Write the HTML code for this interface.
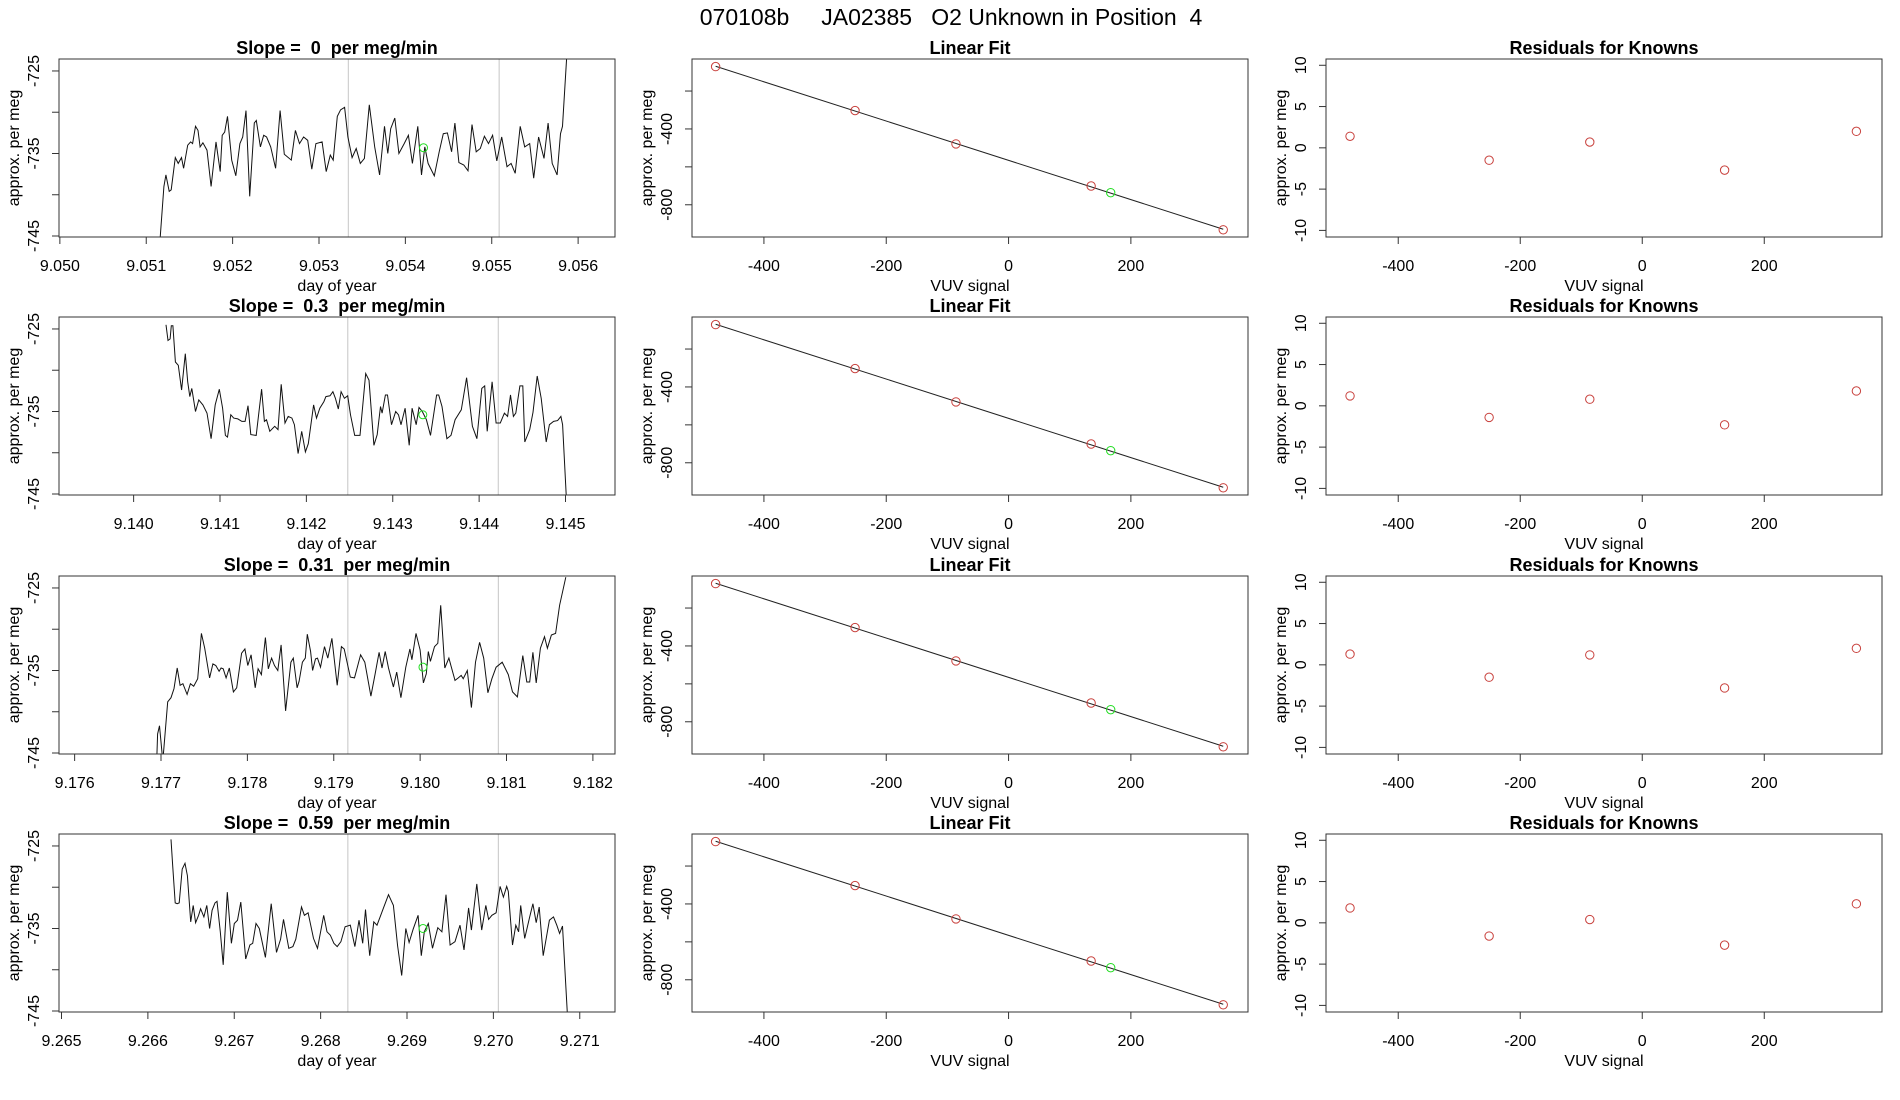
<!DOCTYPE html>
<html><head><meta charset="utf-8"><title>070108b JA02385 O2 Unknown</title>
<style>
html,body{margin:0;padding:0;background:#fff;}
svg{display:block;font-family:"Liberation Sans",Arial,sans-serif;}
svg text{white-space:pre;}
</style></head>
<body>
<svg id="fig" width="1900" height="1100" viewBox="0 0 1900 1100" xmlns="http://www.w3.org/2000/svg" xml:space="preserve">
<rect x="0" y="0" width="1900" height="1100" fill="#fff"/>
<text x="951" y="25" font-size="23" text-anchor="middle" xml:space="preserve" style="white-space:pre">070108b     JA02385   O2 Unknown in Position  4</text>
</svg>
<script>
// ---------- time-series data ----------
const ts1Days=[9.051156,9.051204,9.051228,9.051266,9.051289,9.051337,9.051370,9.051408,9.051432,9.051480,9.051513,9.051537,9.051570,9.051599,9.051623,9.051656,9.051703,9.051751,9.051808,9.051856,9.051879,9.051908,9.051941,9.051989,9.052037,9.052084,9.052117,9.052155,9.052198,9.052251,9.052274,9.052322,9.052360,9.052393,9.052441,9.052498,9.052550,9.052598,9.052679,9.052727,9.052774,9.052822,9.052869,9.052917,9.052964,9.053036,9.053083,9.053131,9.053164,9.053212,9.053250,9.053297,9.053335,9.053383,9.053431,9.053478,9.053526,9.053583,9.053645,9.053702,9.053759,9.053797,9.053830,9.053878,9.053925,9.053987,9.054035,9.054082,9.054144,9.054187,9.054225,9.054263,9.054335,9.054392,9.054439,9.054487,9.054535,9.054573,9.054620,9.054677,9.054725,9.054772,9.054820,9.054868,9.054915,9.054963,9.055010,9.055058,9.055115,9.055177,9.055224,9.055272,9.055329,9.055381,9.055439,9.055486,9.055543,9.055605,9.055653,9.055700,9.055757,9.055796,9.055819,9.055867];
const ts1Vals=[-746,-739.0,-737.6,-739.6,-739.4,-735.5,-736.2,-735.5,-736.8,-734.0,-733.6,-733.8,-731.7,-732.2,-734.2,-733.7,-734.6,-739.0,-733.6,-737.2,-732.8,-732.4,-730.5,-735.8,-737.7,-733.8,-733.0,-729.8,-740.2,-731.3,-731.0,-734.2,-732.8,-733.0,-734.2,-736.8,-729.8,-735.1,-735.8,-732.2,-733.8,-733.0,-733.4,-736.9,-733.8,-733.6,-737.2,-735.2,-735.8,-730.5,-729.7,-729.4,-733.0,-735.5,-734.4,-736.2,-735.6,-729.1,-734.2,-737.6,-731.7,-735.0,-732.0,-730.7,-735.0,-733.8,-732.8,-736.2,-731.7,-737.6,-734.2,-736.2,-737.7,-734.8,-732.6,-732.5,-734.8,-731.3,-736.1,-736.4,-737.1,-731.5,-734.8,-734.4,-732.9,-733.8,-732.8,-735.9,-733.0,-736.6,-736.2,-737.4,-731.7,-734.2,-733.8,-738.0,-733.0,-735.6,-731.3,-736.2,-737.6,-732.6,-731.7,-723.5];
const ts2Days=[9.140375,9.140398,9.140422,9.140436,9.140455,9.140484,9.140517,9.140555,9.140598,9.140626,9.140650,9.140674,9.140716,9.140754,9.140802,9.140849,9.140897,9.140944,9.140992,9.141030,9.141063,9.141087,9.141125,9.141158,9.141206,9.141253,9.141291,9.141324,9.141357,9.141419,9.141481,9.141514,9.141538,9.141576,9.141633,9.141671,9.141709,9.141752,9.141790,9.141832,9.141861,9.141904,9.141946,9.141989,9.142022,9.142084,9.142117,9.142155,9.142203,9.142226,9.142274,9.142307,9.142336,9.142369,9.142402,9.142440,9.142478,9.142511,9.142559,9.142621,9.142687,9.142725,9.142782,9.142820,9.142858,9.142877,9.142915,9.142939,9.142986,9.143034,9.143067,9.143095,9.143143,9.143190,9.143224,9.143271,9.143304,9.143342,9.143390,9.143437,9.143508,9.143532,9.143570,9.143627,9.143674,9.143722,9.143793,9.143855,9.143922,9.143974,9.144031,9.144064,9.144093,9.144150,9.144197,9.144245,9.144292,9.144330,9.144363,9.144397,9.144425,9.144472,9.144506,9.144529,9.144586,9.144624,9.144672,9.144719,9.144776,9.144814,9.144862,9.144909,9.144947,9.144966,9.145014];
const ts2Vals=[-724.5,-726.4,-726.2,-724.6,-724.6,-729.0,-729.4,-732.4,-728.0,-731.4,-733.2,-732.2,-735.0,-733.6,-734.2,-735.2,-738.3,-734.2,-732.3,-734.6,-737.9,-738.1,-735.4,-735.8,-735.9,-736.2,-736.2,-734.3,-737.8,-737.9,-732.3,-736.2,-736.0,-737.4,-736.8,-737.2,-731.7,-736.4,-735.6,-735.8,-736.6,-740.1,-737.4,-739.9,-738.9,-734.2,-735.8,-734.6,-733.8,-733.2,-733.1,-732.6,-733.4,-734.7,-732.6,-733.4,-733.1,-735.4,-737.9,-737.9,-730.4,-731.2,-739.1,-737.8,-734.4,-735.2,-733.0,-733.0,-736.6,-735.0,-735.4,-736.6,-734.6,-739.1,-734.6,-736.6,-734.5,-735.0,-736.0,-737.9,-733.0,-733.0,-734.4,-738.3,-737.9,-736.0,-734.8,-730.9,-736.8,-738.3,-732.2,-731.9,-737.4,-731.4,-736.4,-736.4,-735.2,-735.6,-733.0,-735.6,-735.2,-731.9,-731.9,-738.7,-737.2,-735.1,-730.7,-733.4,-738.7,-736.6,-736.2,-736.1,-735.6,-736.6,-746.3];
const ts3Days=[9.176950,9.176960,9.176983,9.177021,9.177078,9.177116,9.177150,9.177188,9.177221,9.177254,9.177302,9.177340,9.177378,9.177425,9.177468,9.177506,9.177563,9.177601,9.177634,9.177672,9.177696,9.177720,9.177753,9.177791,9.177838,9.177876,9.177933,9.177971,9.178005,9.178043,9.178090,9.178124,9.178162,9.178209,9.178242,9.178280,9.178314,9.178352,9.178390,9.178442,9.178504,9.178532,9.178575,9.178599,9.178637,9.178670,9.178694,9.178732,9.178755,9.178789,9.178812,9.178846,9.178893,9.178931,9.178979,9.179040,9.179088,9.179121,9.179192,9.179240,9.179311,9.179359,9.179430,9.179477,9.179525,9.179558,9.179596,9.179634,9.179691,9.179729,9.179777,9.179834,9.179881,9.179905,9.179952,9.180000,9.180038,9.180071,9.180095,9.180119,9.180166,9.180204,9.180238,9.180285,9.180333,9.180356,9.180404,9.180442,9.180475,9.180499,9.180546,9.180594,9.180641,9.180689,9.180736,9.180784,9.180831,9.180879,9.180950,9.181021,9.181069,9.181126,9.181188,9.181235,9.181268,9.181306,9.181344,9.181392,9.181440,9.181473,9.181520,9.181568,9.181615,9.181686];
const ts3Vals=[-746,-742.7,-741.7,-746,-738.8,-738.3,-737.2,-734.7,-736.8,-736.6,-737.9,-736.6,-736.9,-736.0,-730.5,-732.3,-735.9,-734.2,-734.4,-735.1,-734.7,-734.8,-735.9,-734.7,-737.6,-737.1,-732.9,-732.4,-734.4,-733.1,-737.1,-734.8,-735.5,-731.0,-734.8,-733.5,-734.4,-735.0,-731.9,-739.9,-734.0,-733.5,-737.1,-736.3,-734.0,-733.5,-730.6,-732.7,-735.0,-733.6,-733.5,-734.6,-732.1,-733.5,-731.1,-736.8,-732.1,-732.4,-735.8,-735.9,-733.1,-734.0,-738.1,-735.5,-732.8,-734.7,-732.7,-734.7,-737.0,-735.2,-738.3,-734.6,-732.4,-733.7,-730.5,-732.5,-736.5,-735.4,-732.7,-733.9,-732.1,-731.7,-727.1,-734.7,-733.5,-734.4,-736.2,-735.9,-735.6,-736.0,-735.0,-739.5,-734.0,-731.6,-733.5,-737.7,-736.0,-734.6,-734.0,-735.5,-737.6,-738.2,-733.2,-736.4,-736.4,-732.8,-736.5,-732.3,-730.9,-732.3,-730.7,-730.5,-727.1,-723.7];
const ts4Days=[9.266268,9.266287,9.266316,9.266340,9.266363,9.266397,9.266430,9.266458,9.266496,9.266525,9.266553,9.266587,9.266610,9.266648,9.266682,9.266715,9.266743,9.266777,9.266800,9.266838,9.266872,9.266919,9.266967,9.267000,9.267038,9.267076,9.267133,9.267181,9.267214,9.267252,9.267290,9.267361,9.267428,9.267489,9.267537,9.267570,9.267632,9.267679,9.267713,9.267779,9.267812,9.267855,9.267917,9.267964,9.268036,9.268074,9.268112,9.268154,9.268192,9.268235,9.268283,9.268344,9.268397,9.268444,9.268487,9.268520,9.268568,9.268615,9.268653,9.268724,9.268786,9.268843,9.268891,9.268938,9.268986,9.269024,9.269071,9.269128,9.269166,9.269200,9.269247,9.269295,9.269356,9.269404,9.269451,9.269499,9.269556,9.269613,9.269660,9.269713,9.269746,9.269808,9.269865,9.269912,9.269945,9.269983,9.270031,9.270078,9.270116,9.270154,9.270173,9.270221,9.270259,9.270292,9.270316,9.270363,9.270420,9.270458,9.270496,9.270530,9.270577,9.270648,9.270696,9.270734,9.270767,9.270800,9.270862];
const ts4Vals=[-724.2,-727.4,-731.9,-732.0,-731.9,-727.8,-727.1,-728.6,-734.2,-732.2,-734.3,-733.4,-732.6,-733.6,-732.2,-735.0,-732.8,-731.9,-731.7,-735.4,-739.4,-730.6,-736.8,-734.4,-734.0,-731.8,-738.7,-737.0,-736.8,-734.4,-735.0,-738.5,-732.0,-737.9,-736.3,-733.9,-737.4,-737.2,-736.3,-732.4,-733.4,-733.1,-736.2,-737.4,-733.4,-735.4,-735.8,-736.8,-737.2,-736.6,-734.8,-734.6,-737.2,-734.0,-736.8,-732.7,-738.3,-734.2,-734.6,-732.6,-730.9,-732.2,-737.1,-740.7,-735.0,-736.7,-735.1,-733.4,-738.3,-735.4,-734.4,-737.4,-734.9,-735.4,-730.9,-737.0,-736.6,-734.6,-737.6,-732.5,-735.2,-729.6,-735.2,-732.2,-733.9,-733.4,-733.1,-729.9,-731.2,-729.9,-730.5,-737.0,-734.6,-735.4,-732.2,-736.2,-733.6,-732.0,-734.3,-732.4,-738.3,-734.0,-733.6,-734.6,-735.6,-734.7,-746.3];
const tsXMin=[9.049990,9.139136,9.175819,9.264971];
const tsXTicks=[[9.050,9.051,9.052,9.053,9.054,9.055,9.056],[9.140,9.141,9.142,9.143,9.144,9.145],[9.176,9.177,9.178,9.179,9.180,9.181,9.182],[9.265,9.266,9.267,9.268,9.269,9.270,9.271]];
const tsGrayLines=[[9.053340,9.055086],[9.142479,9.144222],[9.179163,9.180906],[9.268315,9.270058]];
const tsUnknownDay=[9.054210,9.143348,9.180033,9.269185];
const tsUnknownVal=[-734.3,-735.4,-734.6,-735.0];
const slopeLabels=["0","0.3","0.31","0.59"];
const tsYTicks=[-725,-730,-735,-740,-745];
const tsYLabels=[-725,-735,-745];
// ---------- linear fit data ----------
const fitX=[-479,-251,-86,135,351];
const fitY=[-71,-303,-479,-701,-932];
const unknownSignal=[167];
const unknownPerMeg=[-736];
const fitXTicks=[-400,-200,0,200];
const fitYTicks=[-200,-400,-600,-800];
const fitYLabels=[-400,-800];
// ---------- residual data ----------
const resid1=[1.4,-1.5,0.7,-2.7,2.0];
const resid2=[1.2,-1.4,0.8,-2.3,1.8];
const resid3=[1.3,-1.5,1.2,-2.8,2.0];
const resid4=[1.8,-1.6,0.4,-2.7,2.3];
const residYTicks=[-10,-5,0,5,10];

const NS="http://www.w3.org/2000/svg";
const svg=document.getElementById('fig');
const colLeft=[59,692,1326], PW=556, PH=178;
const rowTop=[59,317,576,834];
function mk(tag,attrs,parent){const e=document.createElementNS(NS,tag);for(const k in attrs)e.setAttribute(k,attrs[k]);(parent||svg).appendChild(e);return e;}
function scale(d0,d1,r0,r1){return v=>r0+(v-d0)/(d1-d0)*(r1-r0);}
function fmt(v){return (v<0?"-":"")+Math.abs(v);}

function frame(g,L,T,title,xTitle,yTitle){
  const b=mk('rect',{x:L,y:T,width:PW,height:PH,fill:'none',stroke:'#333','stroke-width':1},g);
  
  
  const t=mk('text',{x:L+PW/2,y:T-5,'font-size':18,'font-weight':'bold','text-anchor':'middle',style:'white-space:pre'},g);
  t.textContent=title;
  
  
  const xt=mk('text',{x:L+PW/2,y:T+PH+54,'font-size':16,'text-anchor':'middle'},g);
  xt.textContent=xTitle;
  
  
  const yt=mk('text',{x:L-40,y:T+PH/2,'font-size':16,'text-anchor':'middle',transform:`rotate(-90 ${L-40} ${T+PH/2})`},g);
  yt.textContent=yTitle;
  
  
}
function xAxis(g,sx,ticks,B,labelFn){
  ticks.forEach(v=>{
    const x=sx(v);
    const tk=mk('line',{x1:x,x2:x,y1:B,y2:B+7,stroke:'#333'},g);
    
    
    const tl=mk('text',{x:x,y:B+34,'font-size':16,'text-anchor':'middle'},g);
    tl.textContent=labelFn(v);
    
    
  });
  const a=mk('line',{x1:sx(ticks[0]),x2:sx(ticks[ticks.length-1]),y1:B,y2:B,stroke:'#333'},g);
  
  
}
function yAxis(g,sy,ticks,labels,L){
  ticks.forEach(v=>{
    const y=sy(v);
    const tk=mk('line',{x1:L-7,x2:L,y1:y,y2:y,stroke:'#333'},g);
    
    
  });
  labels.forEach(v=>{
    const y=sy(v);
    const tl=mk('text',{x:L-20,y:y,'font-size':16,'text-anchor':'middle',transform:`rotate(-90 ${L-20} ${y})`},g);
    tl.textContent=fmt(v);
    
    
  });
  const a=mk('line',{x1:L,x2:L,y1:sy(ticks[0]),y2:sy(ticks[ticks.length-1]),stroke:'#333'},g);
  
  
}

const tsDays=[ts1Days,ts2Days,ts3Days,ts4Days];
const tsVals=[ts1Vals,ts2Vals,ts3Vals,ts4Vals];
const resids=[resid1,resid2,resid3,resid4];

for(let r=0;r<4;r++){
  const T=rowTop[r], B=T+PH;
  {
    const L=colLeft[0];
    const g=mk('g',{});
    
    
    const sx=scale(tsXMin[r],tsXMin[r]+0.006437,L,L+PW);
    const sy=scale(-745.12,-723.55,B,T);
    const cp=mk('clipPath',{id:'clip'+r},g);
    mk('rect',{x:L,y:T,width:PW,height:PH},cp);
    tsGrayLines[r].forEach(d=>{
      const gl=mk('line',{x1:sx(d),x2:sx(d),y1:T,y2:B,stroke:'#cfcfcf','stroke-width':1.2},g);
      
      
    });
    const pts=tsDays[r].map((d,i)=>sx(d).toFixed(1)+','+sy(tsVals[r][i]).toFixed(1)).join(' ');
    const pl=mk('polyline',{points:pts,fill:'none',stroke:'#111','stroke-width':1,'clip-path':`url(#clip${r})`},g);
    
    
    const gp=mk('circle',{cx:sx(tsUnknownDay[r]),cy:sy(tsUnknownVal[r]),r:4,fill:'none',stroke:'#22dd22','stroke-width':1},g);
    
    
    frame(g,L,T,'Slope =  '+slopeLabels[r]+'  per meg/min','day of year','approx. per meg');
    xAxis(g,sx,tsXTicks[r],B,v=>v.toFixed(3));
    yAxis(g,sy,tsYTicks,tsYLabels,L);
  }
  {
    const L=colLeft[1];
    const g=mk('g',{});
    
    
    const sx=scale(-517.6,391.5,L,L+PW);
    const sy=scale(-970,-31,B,T);
    const n=fitX.length;
    const mx=fitX.reduce((a,b)=>a+b,0)/n, my=fitY.reduce((a,b)=>a+b,0)/n;
    let sxy=0,sxx=0;for(let i=0;i<n;i++){sxy+=(fitX[i]-mx)*(fitY[i]-my);sxx+=(fitX[i]-mx)**2;}
    const m=sxy/sxx, c=my-m*mx;
    const x0=Math.min(...fitX), x1=Math.max(...fitX);
    const fl=mk('line',{x1:sx(x0),y1:sy(m*x0+c),x2:sx(x1),y2:sy(m*x1+c),stroke:'#222','stroke-width':1},g);
    
    
    fitX.forEach((x,i)=>{
      const p=mk('circle',{cx:sx(x),cy:sy(fitY[i]),r:4.2,fill:'none',stroke:'#c8403c','stroke-width':1},g);
      
      
    });
    unknownSignal.forEach((x,i)=>{
      const p=mk('circle',{cx:sx(x),cy:sy(unknownPerMeg[i]),r:4.2,fill:'none',stroke:'#22dd22','stroke-width':1},g);
      
      
    });
    frame(g,L,T,'Linear Fit','VUV signal','approx. per meg');
    xAxis(g,sx,fitXTicks,B,fmt);
    yAxis(g,sy,fitYTicks,fitYLabels,L);
  }
  {
    const L=colLeft[2];
    const g=mk('g',{});
    
    
    const sx=scale(-518.4,393,L,L+PW);
    const sy=scale(-10.8,10.76,B,T);
    resids[r].forEach((v,i)=>{
      const p=mk('circle',{cx:sx(fitX[i]),cy:sy(v),r:4.2,fill:'none',stroke:'#c8403c','stroke-width':1},g);
      
      
    });
    frame(g,L,T,'Residuals for Knowns','VUV signal','approx. per meg');
    xAxis(g,sx,fitXTicks,B,fmt);
    yAxis(g,sy,residYTicks,residYTicks,L);
  }
}
</script>
</body></html>
